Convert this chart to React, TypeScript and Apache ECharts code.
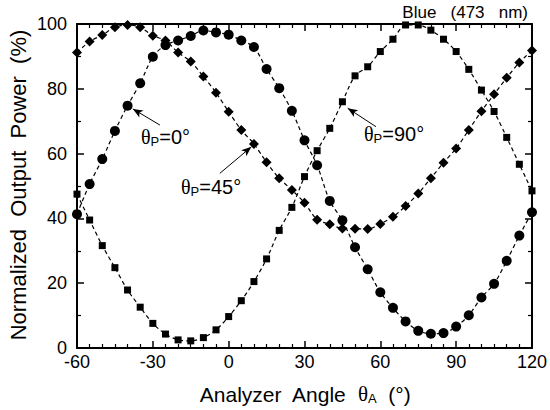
import React, { useEffect, useRef } from "react";
import * as echarts from "echarts";

const angles = [-60, -55, -50, -45, -40, -35, -30, -25, -20, -15, -10, -5, 0, 5, 10, 15, 20, 25, 30, 35, 40, 45, 50, 55, 60, 65, 70, 75, 80, 85, 90, 95, 100, 105, 110, 115, 120];

const p0 = [41.3, 50.6, 58.3, 67, 74.8, 81.7, 89.9, 93.5, 94.9, 96.3, 98, 97.4, 96.7, 94.9, 92.9, 86.1, 80.2, 73.2, 64.1, 56.4, 45.4, 39.4, 31.1, 24.3, 17.2, 12.4, 8.2, 5.3, 4.4, 4.6, 6.6, 10.1, 15.6, 19.8, 26.9, 34.7, 41.9];

const p90 = [47.5, 39.5, 31.6, 24.8, 17.9, 12.6, 7.6, 4.3, 2.5, 2.2, 3.2, 5.6, 9.7, 14.6, 20.5, 27.5, 36.3, 43.4, 52.9, 60.9, 67.8, 76, 84, 86.8, 91.5, 95.3, 99.7, 99.7, 98.1, 95.3, 91.5, 86, 79.6, 73, 65, 56.7, 48.5];

const p45 = [91.2, 94.6, 96.6, 99, 99.7, 99, 96.4, 94.9, 91.2, 88.4, 83.8, 78.8, 72.9, 67.3, 63, 57.3, 52.4, 48.8, 44.8, 39.6, 38.2, 36.9, 36.8, 36.7, 38.3, 40.5, 43.8, 47.7, 52.4, 57.2, 61.6, 67.3, 73.1, 78.3, 83.4, 88.1, 91.8];

const xTicks = [-60, -30, 0, 30, 60, 90, 120];
const yTicks = [0, 20, 40, 60, 80, 100];

// annotation arrows in data coordinates: [from, to]
const arrow0 = [[-27.2, 68.8], [-37.9, 73.8]];
const arrow45 = [[-3.5, 53.9], [9.0, 62.1]];
const arrow90 = [[58.3, 68.3], [47.1, 74.0]];

const FONT = "Liberation Sans, Arial, sans-serif";

function pair(xs: number[], ys: number[]) {
  return xs.map((x, i) => [x, ys[i]]);
}

function arrowLine(a: number[][]) {
  return {
    silent: true,
    symbol: ["none", "arrow"],
    symbolSize: [6, 10],
    label: { show: false },
    lineStyle: { color: "#000", type: "solid", width: 1 },
    data: [[{ coord: a[0] }, { coord: a[1] }]],
  };
}

export default function App() {
  const ref = useRef<HTMLDivElement>(null);
  useEffect(() => {
    document.body.style.margin = "0";
    if (!ref.current) return;
    const chart = echarts.init(ref.current, null, { renderer: "svg" });
    const axisCommon = {
      min: -60,
      max: 120,
      interval: 30,
      axisLine: { show: true, onZero: false, lineStyle: { color: "#000", width: 2 } },
      axisTick: { show: true, inside: true, length: 7, lineStyle: { color: "#000", width: 1.5 } },
      minorTick: { show: true, splitNumber: 6, length: 4, lineStyle: { color: "#000", width: 1.2 } },
      splitLine: { show: false },
    };
    const yCommon = {
      min: 0,
      max: 100,
      interval: 20,
      axisLine: { show: true, onZero: false, lineStyle: { color: "#000", width: 2 } },
      axisTick: { show: true, inside: true, length: 7, lineStyle: { color: "#000", width: 1.5 } },
      minorTick: { show: true, splitNumber: 2, length: 4, lineStyle: { color: "#000", width: 1.2 } },
      splitLine: { show: false },
    };
    const lineStyle = { color: "#000", width: 1.2, type: [4, 3] as any };
    const series: any[] = [
      {
        type: "line",
        name: "θP=0°",
        data: pair(angles, p0),
        smooth: 0.3,
        symbol: "circle",
        symbolSize: 10,
        itemStyle: { color: "#000" },
        lineStyle,
        clip: false,
        markLine: arrowLine(arrow0),
      },
      {
        type: "line",
        name: "θP=90°",
        data: pair(angles, p90),
        smooth: 0.3,
        symbol: "rect",
        symbolSize: 7,
        itemStyle: { color: "#000" },
        lineStyle,
        clip: false,
        markLine: arrowLine(arrow90),
      },
      {
        type: "line",
        name: "θP=45°",
        data: pair(angles, p45),
        smooth: 0.3,
        symbol: "diamond",
        symbolSize: 10,
        itemStyle: { color: "#000" },
        lineStyle,
        clip: false,
        markLine: arrowLine(arrow45),
      },
    ];
    const annRich = {
      t: { fontFamily: "Liberation Serif, serif", fontSize: 20, color: "#000" },
      s: { fontFamily: FONT, fontSize: 13, color: "#000", padding: [8, 0, 0, 0] },
      n: { fontFamily: FONT, fontSize: 20, color: "#000" },
    };
    chart.setOption({
      animation: false,
      backgroundColor: "#fff",
      grid: { left: 77, right: 17, top: 24, bottom: 62 },
      xAxis: [
        {
          type: "value",
          position: "bottom",
          ...axisCommon,
          axisLabel: {
            show: true,
            color: "#000",
            fontFamily: FONT,
            fontSize: 18,
            margin: 5,
            formatter: (v: number) => (xTicks.includes(v) ? String(v) : ""),
          },
        },
        {
          type: "value",
          position: "top",
          ...axisCommon,
          axisLabel: { show: false },
        },
      ],
      yAxis: [
        {
          type: "value",
          position: "left",
          ...yCommon,
          axisLabel: {
            show: true,
            color: "#000",
            fontFamily: FONT,
            fontSize: 18,
            margin: 10,
            formatter: (v: number) => (yTicks.includes(v) ? String(v) : ""),
          },
        },
        {
          type: "value",
          position: "right",
          ...yCommon,
          axisLabel: { show: false },
        },
      ],
      series,
      graphic: [
        {
          type: "text",
          x: 528,
          y: 12,
          style: {
            text: "Blue   (473   nm)",
            fontFamily: FONT,
            fontSize: 17,
            fill: "#000",
            align: "right",
            verticalAlign: "middle",
          },
        },
        {
          type: "text",
          x: 18,
          y: 185,
          rotation: Math.PI / 2,
          style: {
            text: "Normalized  Output  Power  (%)",
            fontFamily: FONT,
            fontSize: 22,
            fill: "#000",
            align: "center",
            verticalAlign: "middle",
          },
        },
        {
          type: "text",
          x: 305,
          y: 394,
          style: {
            text: "Analyzer  Angle  {t|θ}{s|A}  (°)",
            rich: {
              t: { fontFamily: "Liberation Serif, serif", fontSize: 21, fill: "#000" },
              s: { fontFamily: FONT, fontSize: 13, fill: "#000", padding: [9, 0, 0, 0] },
            },
            fontFamily: FONT,
            fontSize: 21,
            fill: "#000",
            align: "center",
            verticalAlign: "middle",
          },
        },
        {
          type: "text",
          x: 141,
          y: 137,
          style: {
            text: "{t|θ}{s|P}{n|=0°}",
            rich: annRich,
            align: "left",
            verticalAlign: "middle",
          },
        },
        {
          type: "text",
          x: 181,
          y: 187,
          style: {
            text: "{t|θ}{s|P}{n|=45°}",
            rich: annRich,
            align: "left",
            verticalAlign: "middle",
          },
        },
        {
          type: "text",
          x: 364,
          y: 134,
          style: {
            text: "{t|θ}{s|P}{n|=90°}",
            rich: annRich,
            align: "left",
            verticalAlign: "middle",
          },
        },
      ],
    });
    return () => chart.dispose();
  }, []);
  return <div ref={ref} style={{ width: 550, height: 410 }} />;
}
